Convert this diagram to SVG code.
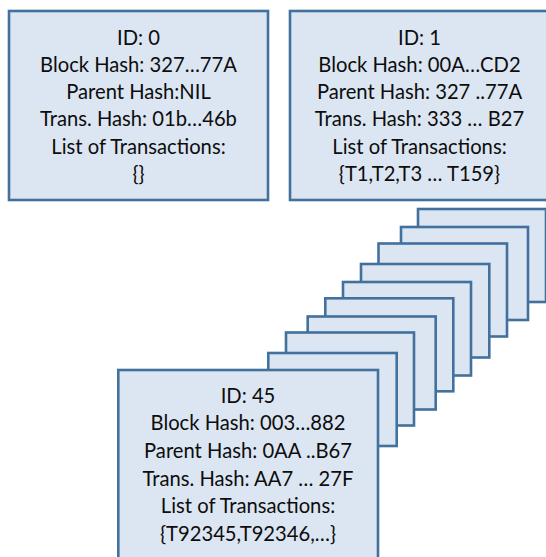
<svg xmlns="http://www.w3.org/2000/svg" width="546" height="557" viewBox="0 0 546 557">
<style>
.box{fill:#dce6f2;stroke:#41719c;stroke-width:2.6}
.t{font-family:Lato,"Open Sans","Liberation Sans",sans-serif;font-size:20.2px;fill:#0d0d0d;text-anchor:middle}
</style>
<rect width="546" height="557" fill="#fff"/>
<g id="block0">
<rect class="box" x="9" y="11" width="259" height="189"/>
<text class="t" x="138.5" y="44.5">ID: 0</text>
<text class="t" x="138.5" y="71.8">Block Hash: 327…77A</text>
<text class="t" x="138.5" y="99">Parent Hash:NIL</text>
<text class="t" x="138.5" y="126.3">Trans. Hash: 01b…46b</text>
<text class="t" x="138.5" y="153.5">List of Transactions:</text>
<text class="t" x="138.5" y="180.8">{}</text>
</g>
<g id="block1">
<rect class="box" x="290" y="11" width="259" height="189"/>
<text class="t" x="419.5" y="44.5">ID: 1</text>
<text class="t" x="419.5" y="71.8">Block Hash: 00A…CD2</text>
<text class="t" x="419.5" y="99">Parent Hash: 327 ..77A</text>
<text class="t" x="419.5" y="126.3">Trans. Hash: 333 … B27</text>
<text class="t" x="419.5" y="153.5">List of Transactions:</text>
<text class="t" x="419.5" y="180.8">{T1,T2,T3 … T159}</text>
</g>
<g id="stack">
<rect class="box" x="418" y="209" width="128" height="93"/>
<rect class="box" x="401" y="227" width="127" height="93"/>
<rect class="box" x="378.5" y="243.5" width="128.5" height="93"/>
<rect class="box" x="361" y="264" width="128.3" height="93.5"/>
<rect class="box" x="343" y="282" width="128" height="93.5"/>
<rect class="box" x="325.3" y="298.3" width="128" height="93"/>
<rect class="box" x="307.7" y="316.5" width="128" height="93"/>
<rect class="box" x="286" y="332.5" width="128" height="93"/>
<rect class="box" x="268.3" y="353" width="128.4" height="93"/>
</g>
<g id="block45">
<rect class="box" x="118.3" y="370" width="259.7" height="190"/>
<text class="t" x="248" y="402.7">ID: 45</text>
<text class="t" x="248" y="430.3">Block Hash: 003…882</text>
<text class="t" x="248" y="457.9">Parent Hash: 0AA ..B67</text>
<text class="t" x="248" y="485.5">Trans. Hash: AA7 … 27F</text>
<text class="t" x="248" y="513.1">List of Transactions:</text>
<text class="t" x="248" y="540.7">{T92345,T92346,…}</text>
</g>
<g id="connectors"/>
</svg>
